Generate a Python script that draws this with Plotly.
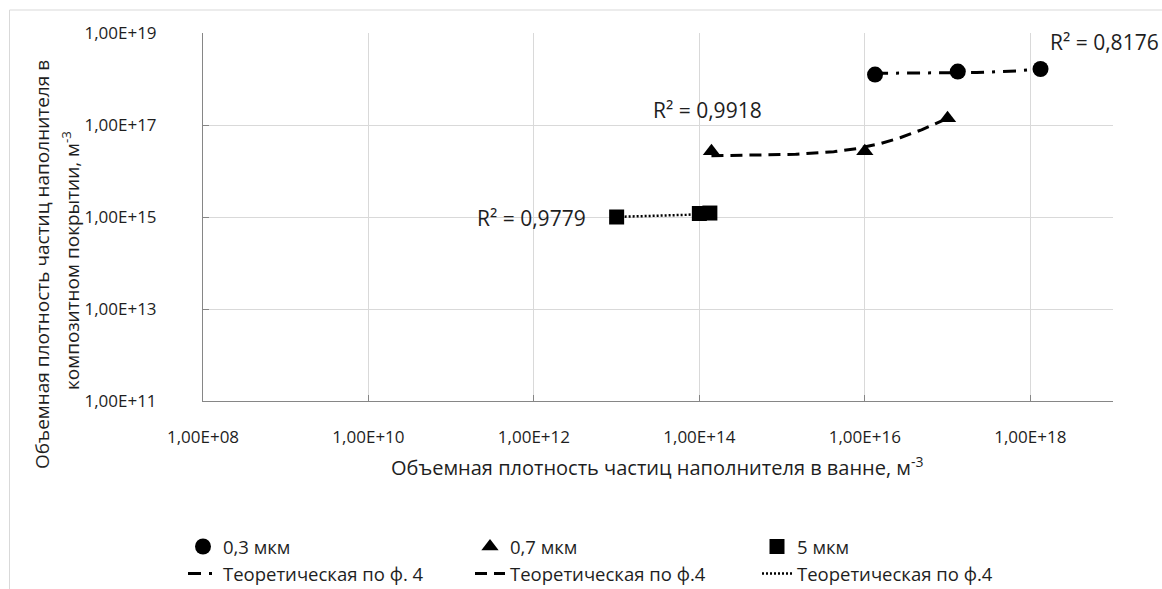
import numpy as np
import plotly.graph_objects as go

# Measured particle densities (bath vs. coating), m^-3
x_03 = [1.33e16, 1.33e17, 1.33e18]
y_03 = [1.25e18, 1.45e18, 1.65e18]

x_07 = [1.4e14, 1.0e16, 1.0e17]
y_07 = [2.7e16, 2.7e16, 1.4e17]

x_5 = [1.0e13, 1.0e14, 1.34e14]
y_5 = [1.0e15, 1.19e15, 1.22e15]

series_names = ["0,3 мкм", "0,7 мкм", "5 мкм"]
trend_names = ["Теоретическая по ф. 4", "Теоретическая по ф.4", "Теоретическая по ф.4"]
r2_labels = ["R² = 0,8176", "R² = 0,9918", "R² = 0,9779"]

x_tick_vals = [1e8, 1e10, 1e12, 1e14, 1e16, 1e18]
x_tick_text = ["1,00E+08", "1,00E+10", "1,00E+12", "1,00E+14", "1,00E+16", "1,00E+18"]
y_tick_vals = [1e11, 1e13, 1e15, 1e17, 1e19]
y_tick_text = ["1,00E+11", "1,00E+13", "1,00E+15", "1,00E+17", "1,00E+19"]

x_title = "Объемная плотность частиц наполнителя в ванне, м<sup>-3</sup>"
y_title_1 = "Объемная плотность частиц наполнителя в"
y_title_2 = "композитном покрытии, м<sup>-3</sup>"

FONT = "Open Sans"
TXT = "#1e1e1e"
W, H = 1162, 589
L, R, T, B = 203, 49, 33, 188
PW, PH = W - L - R, H - T - B


def px(xp):
    return (xp - L) / PW


def py(yp):
    return (H - B - yp) / PH


def linear_trend(xs, ys, n=200):
    k, b = np.polyfit(xs, ys, 1)
    xt = np.logspace(np.log10(min(xs)), np.log10(max(xs)), n)
    return xt, k * xt + b


fig = go.Figure()

trend_styles = [
    dict(dash="13px,8px,3px,8px", width=3),
    dict(dash="12px,7px", width=3),
    dict(dash="2px,2px", width=2.5),
]
groups = [(x_03, y_03), (x_07, y_07), (x_5, y_5)]
for i, ((xs, ys), name, st) in enumerate(zip(groups, trend_names, trend_styles)):
    xt, yt = linear_trend(xs, ys)
    fig.add_trace(go.Scatter(
        x=xt, y=yt, mode="lines", name=name, legendrank=4 + i,
        line=dict(color="black", width=st["width"], dash=st["dash"]),
        hoverinfo="skip",
    ))

symbols = ["circle", "triangle-up", "square"]
sizes = [16, 15, 15]
for i, ((xs, ys), name) in enumerate(zip(groups, series_names)):
    fig.add_trace(go.Scatter(
        x=xs, y=ys, mode="markers", name=name, legendrank=1 + i,
        marker=dict(symbol=symbols[i], size=sizes[i], color="black"),
    ))

axis_common = dict(
    type="log", showgrid=True, gridcolor="#d9d9d9", gridwidth=1,
    showline=True, linecolor="#868686", linewidth=1,
    ticks="inside", ticklen=6, tickcolor="#868686",
    tickfont=dict(family=FONT, size=17, color=TXT),
    zeroline=False, automargin=False,
)

fig.update_layout(
    width=W, height=H,
    margin=dict(l=L, r=R, t=T, b=B, autoexpand=False),
    paper_bgcolor="white", plot_bgcolor="white",
    font=dict(family=FONT, size=17, color=TXT),
    xaxis=dict(axis_common, range=[8, 19], tickvals=x_tick_vals, ticktext=x_tick_text,
               ticklabelstandoff=21),
    yaxis=dict(axis_common, range=[11, 19], tickvals=y_tick_vals, ticktext=y_tick_text,
               ticklabelstandoff=42),
    showlegend=True,
    legend=dict(
        orientation="h", x=px(183), y=py(528), xanchor="left", yanchor="top",
        font=dict(family=FONT, size=18.5, color=TXT),
        entrywidth=242, entrywidthmode="pixels", traceorder="normal",
        itemwidth=30, tracegroupgap=0,
        bgcolor="rgba(0,0,0,0)",
    ),
)

annotations = [
    dict(text=x_title, x=px(657), y=py(466), size=20),
    dict(text=y_title_1, x=px(42), y=py(265), textangle=-90, size=19),
    dict(text=y_title_2, x=px(71), y=py(261), textangle=-90, size=19),
    dict(text=r2_labels[0], x=px(1104), y=py(42), size=21),
    dict(text=r2_labels[1], x=px(707), y=py(110), size=21),
    dict(text=r2_labels[2], x=px(531), y=py(218), size=21),
]
for a in annotations:
    size = a.pop("size")
    fig.add_annotation(
        xref="paper", yref="paper", showarrow=False,
        xanchor="center", yanchor="middle",
        font=dict(family=FONT, size=size, color=TXT), **a,
    )

# chart-area frame
fig.add_shape(
    type="rect", xref="paper", yref="paper",
    x0=px(9.5), x1=px(W + 20), y0=py(H + 20), y1=py(10),
    line=dict(color="#d9d9d9", width=1), layer="below",
)

fig.write_html("out.html")
